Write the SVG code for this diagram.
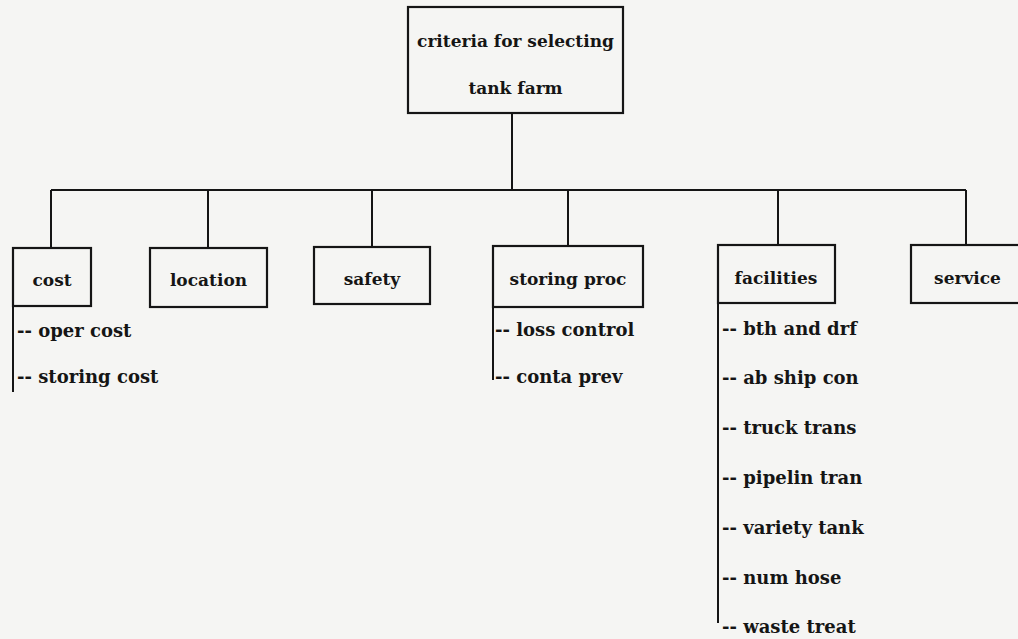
<svg xmlns="http://www.w3.org/2000/svg" width="1018" height="639" viewBox="0 0 1018 639">
<style>
.bg{fill:#f5f5f3}
.box{fill:none;stroke:#151515;stroke-width:2.2}
.ln{fill:none;stroke:#151515;stroke-width:2}
text{font-family:"DejaVu Serif","Liberation Serif",serif;font-weight:bold;font-size:17px;fill:#151515}
.c{text-anchor:middle}
.it{font-size:18px}
</style>
<rect class="bg" x="0" y="0" width="1018" height="639"/>
<g id="connectors">
<path class="ln" d="M512 113V190M51 190H966M51 190V248M208 190V248M372 190V247M568 190V246M778 190V245M966 190V245"/>
<path class="ln" d="M13 306V392M493 307V380M718 303V623"/>
</g>
<g id="root"><rect class="box" x="408" y="7" width="215" height="106"/><text class="c" x="515.5" y="47" font-size="16.5">criteria for selecting</text><text class="c" x="515.5" y="94" font-size="16.5">tank farm</text></g>
<g id="cost"><rect class="box" x="13" y="248" width="78" height="58"/><text class="c" x="52" y="286">cost</text>
<text class="it" x="17" y="337">-- oper cost</text><text class="it" x="17" y="383">-- storing cost</text></g>
<g id="location"><rect class="box" x="150" y="248" width="117" height="59"/><text class="c" x="208.5" y="286">location</text></g>
<g id="safety"><rect class="box" x="314" y="247" width="116" height="57"/><text class="c" x="372" y="285">safety</text></g>
<g id="storing-proc"><rect class="box" x="493" y="246" width="150" height="61"/><text class="c" x="568" y="285">storing proc</text>
<text class="it" x="495" y="336">-- loss control</text><text class="it" x="495" y="383">-- conta prev</text></g>
<g id="facilities"><rect class="box" x="718" y="245" width="117" height="58"/><text class="c" x="776" y="284">facilities</text>
<text class="it" x="722" y="335">-- bth and drf</text>
<text class="it" x="722" y="384">-- ab ship con</text>
<text class="it" x="722" y="434">-- truck trans</text>
<text class="it" x="722" y="484">-- pipelin tran</text>
<text class="it" x="722" y="534">-- variety tank</text>
<text class="it" x="722" y="584">-- num hose</text>
<text class="it" x="722" y="633">-- waste treat</text></g>
<g id="service"><rect class="box" x="911" y="245" width="113" height="58"/><text class="c" x="967.5" y="284">service</text></g>
</svg>
